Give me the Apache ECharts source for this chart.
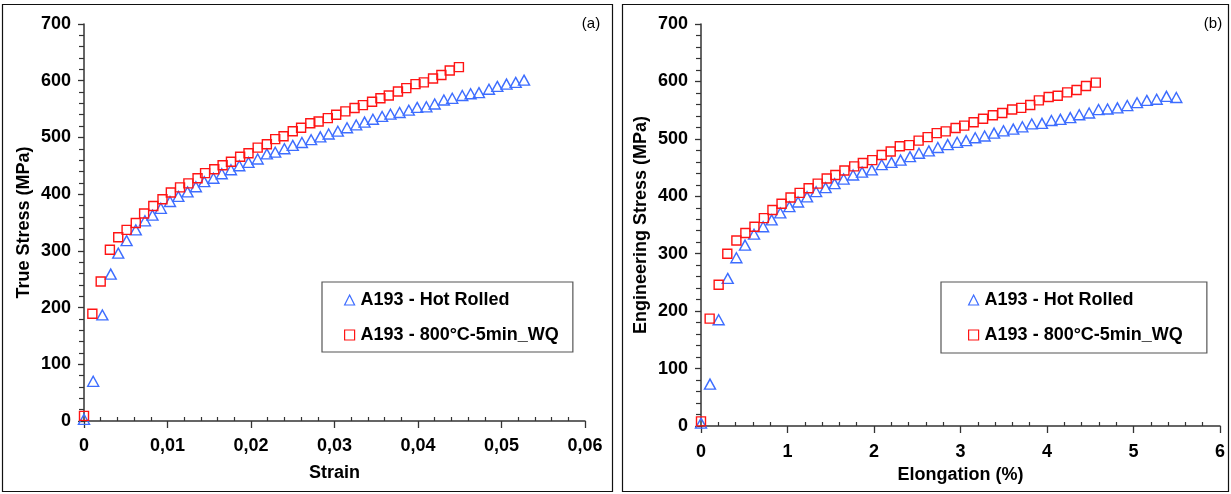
<!DOCTYPE html>
<html>
<head>
<meta charset="utf-8">
<script src="https://cdn.jsdelivr.net/npm/echarts@6/dist/echarts.min.js"></script>
<style>
html,body{margin:0;padding:0;background:#fff;}
#c{width:1231px;height:494px;}
</style>
</head>
<body>
<div id="c"></div>
<script>
// ---- Data ----
const seriesNames = ['A193 - Hot Rolled', 'A193 - 800°C-5min_WQ'];

// Panel (a): true stress vs strain
const hotStrain = [0, 0.0011, 0.0022, 0.0032, 0.0041, 0.0051, 0.0062, 0.0073, 0.0082, 0.0092, 0.0103, 0.0113, 0.0124, 0.0134, 0.0144, 0.0155, 0.0165, 0.0176, 0.0186, 0.0197, 0.0208, 0.0219, 0.0229, 0.024, 0.025, 0.0261, 0.0272, 0.0283, 0.0293, 0.0304, 0.0315, 0.0326, 0.0336, 0.0346, 0.0357, 0.0367, 0.0378, 0.0389, 0.0399, 0.041, 0.042, 0.0431, 0.0441, 0.0453, 0.0463, 0.0473, 0.0485, 0.0495, 0.0506, 0.0517, 0.0527];
const hotTrueStress = [3, 70, 187, 259, 296, 318, 337, 353, 363, 375, 387, 396, 404, 413, 422, 428, 436, 443, 450, 456, 462, 471, 474, 480, 486, 491, 496, 501, 506, 511, 517, 522, 527, 532, 537, 541, 544, 548, 553, 554, 559, 566, 569, 574, 577, 579, 585, 590, 594, 597, 601];
const wqStrain = [0, 0.001, 0.002, 0.0031, 0.0041, 0.0051, 0.0062, 0.0072, 0.0083, 0.0094, 0.0104, 0.0115, 0.0125, 0.0136, 0.0145, 0.0156, 0.0166, 0.0176, 0.0187, 0.0197, 0.0208, 0.0219, 0.0229, 0.0239, 0.025, 0.026, 0.0271, 0.0281, 0.0292, 0.0302, 0.0313, 0.0324, 0.0334, 0.0345, 0.0355, 0.0365, 0.0376, 0.0386, 0.0397, 0.0407, 0.0418, 0.0428, 0.0438, 0.0449];
const wqTrueStress = [9, 189, 246, 302, 324, 337, 349, 366, 379, 391, 403, 412, 419, 428, 437, 444, 451, 457, 466, 472, 482, 488, 497, 502, 511, 517, 525, 528, 534, 540, 546, 552, 557, 563, 569, 574, 581, 587, 594, 597, 604, 610, 618, 624];

// Panel (b): engineering stress vs elongation (%)
const hotElong = [0, 0.104, 0.204, 0.309, 0.409, 0.509, 0.613, 0.718, 0.817, 0.917, 1.022, 1.122, 1.226, 1.331, 1.44, 1.544, 1.649, 1.758, 1.862, 1.975, 2.089, 2.202, 2.307, 2.416, 2.52, 2.634, 2.738, 2.852, 2.961, 3.065, 3.17, 3.279, 3.388, 3.497, 3.61, 3.715, 3.824, 3.942, 4.051, 4.155, 4.269, 4.373, 4.487, 4.596, 4.7, 4.814, 4.928, 5.041, 5.154, 5.268, 5.381, 5.495];
const hotEngStress = [5, 73, 185, 257, 293, 315, 334, 347, 359, 371, 382, 390, 399, 408, 415, 422, 430, 437, 442, 446, 455, 459, 463, 469, 475, 479, 485, 490, 494, 497, 502, 505, 510, 514, 517, 521, 526, 527, 532, 534, 537, 542, 545, 551, 552, 554, 558, 563, 567, 569, 574, 572];
const wqElong = [0, 0.1, 0.204, 0.304, 0.409, 0.513, 0.618, 0.727, 0.826, 0.931, 1.035, 1.14, 1.244, 1.349, 1.453, 1.553, 1.658, 1.771, 1.871, 1.98, 2.089, 2.193, 2.298, 2.407, 2.516, 2.62, 2.725, 2.829, 2.943, 3.043, 3.152, 3.261, 3.374, 3.483, 3.597, 3.702, 3.806, 3.906, 4.019, 4.124, 4.233, 4.342, 4.451, 4.564];
const wqEngStress = [8, 187, 246, 300, 323, 336, 347, 362, 376, 387, 398, 406, 414, 422, 431, 437, 445, 452, 458, 463, 472, 478, 487, 489, 497, 503, 510, 513, 519, 523, 529, 535, 541, 545, 551, 554, 559, 567, 573, 575, 581, 585, 592, 598];

// Axis tick settings
const yTicks = {min: 0, max: 700, interval: 100};
const strainTicks = {min: 0, max: 0.06, interval: 0.01, minorStep: 0.002};
const elongTicks = {min: 0, max: 6, interval: 1, minorStep: 0.2};

// ---- Build ----
const zip = (xs, ys) => xs.map((x, i) => [x, ys[i]]);
const BLUE = '#3d6dff';
const RED = '#ff1414';
const AXIS = '#333';
const FONT = 'Liberation Sans, Arial, sans-serif';

function minorValues(t) {
  const out = [];
  const n = Math.round((t.max - t.min) / t.minorStep);
  const per = Math.round(t.interval / t.minorStep);
  for (let k = 0; k <= n; k++) {
    if (k % per !== 0) out.push(+(t.min + k * t.minorStep).toFixed(6));
  }
  return out;
}

const labelStyle = {color: '#000', fontFamily: FONT, fontWeight: 'bold', fontSize: 18};
const nameStyle = {color: '#000', fontFamily: FONT, fontWeight: 'bold', fontSize: 18};

function mainX(gi, t, name, gap, margin, fmt) {
  return {
    type: 'value', gridIndex: gi, min: t.min, max: t.max, interval: t.interval,
    name: name, nameLocation: 'middle', nameGap: gap, nameTextStyle: nameStyle,
    axisLine: {show: true, lineStyle: {color: AXIS, width: 1.5}},
    axisTick: {show: true, inside: false, length: 7, lineStyle: {color: AXIS, width: 1.3}},
    axisLabel: Object.assign({margin: margin, formatter: fmt}, labelStyle),
    splitLine: {show: false}
  };
}
function minorX(gi, t) {
  return {
    type: 'value', gridIndex: gi, min: t.min, max: t.max, interval: t.minorStep,
    position: 'bottom',
    axisLine: {show: false},
    axisTick: {show: true, inside: true, length: 4, customValues: minorValues(t), lineStyle: {color: AXIS, width: 1.2}},
    axisLabel: {show: false},
    splitLine: {show: false}
  };
}
function mainY(gi, name, gap) {
  return {
    type: 'value', gridIndex: gi, min: yTicks.min, max: yTicks.max, interval: yTicks.interval,
    name: name, nameLocation: 'middle', nameGap: gap, nameTextStyle: nameStyle,
    axisLine: {show: true, lineStyle: {color: AXIS, width: 1.5}},
    axisTick: {show: true, inside: false, length: 6, lineStyle: {color: AXIS, width: 1.3}},
    minorTick: {show: true, splitNumber: 5, length: 5, lineStyle: {color: AXIS, width: 1.2}},
    axisLabel: Object.assign({margin: 13}, labelStyle),
    splitLine: {show: false}
  };
}

function scatter(name, xi, yi, data, isTri) {
  return {
    type: 'scatter', name: name, xAxisIndex: xi, yAxisIndex: yi, data: data,
    symbol: isTri ? 'triangle' : 'rect',
    symbolSize: isTri ? [11, 10] : 9,
    itemStyle: {color: 'rgba(255,255,255,0)', borderColor: isTri ? BLUE : RED, borderWidth: 1.4, opacity: 1},
    emphasis: {disabled: true},
    z: isTri ? 2 : 3
  };
}

function legend(left, top, padding) {
  return {
    orient: 'vertical', left: left, top: top, padding: padding, itemGap: 17,
    itemWidth: 10, itemHeight: 10, selectedMode: false,
    borderColor: '#555', borderWidth: 1.2, backgroundColor: '#fff',
    textStyle: {color: '#000', fontFamily: FONT, fontWeight: 'bold', fontSize: 18, padding: [0, 0, 0, 1]},
    data: [
      {name: seriesNames[0], icon: 'triangle', itemStyle: {color: 'rgba(255,255,255,0)', borderColor: BLUE, borderWidth: 1.2}},
      {name: seriesNames[1], icon: 'rect', itemStyle: {color: 'rgba(255,255,255,0)', borderColor: RED, borderWidth: 1.2}}
    ]
  };
}

const strainFmt = v => (v === 0 ? '0' : v.toFixed(2).replace('.', ','));
const elongFmt = v => String(Math.round(v));

const option = {
  animation: false,
  backgroundColor: '#fff',
  grid: [
    {left: 84, top: 24, width: 501, height: 397},
    {left: 701, top: 24, width: 519, height: 402}
  ],
  xAxis: [
    mainX(0, strainTicks, 'Strain', 43, 16, strainFmt),
    minorX(0, strainTicks),
    mainX(1, elongTicks, 'Elongation (%)', 38, 17, elongFmt),
    minorX(1, elongTicks)
  ],
  yAxis: [
    mainY(0, 'True Stress (MPa)', 51),
    mainY(1, 'Engineering Stress (MPa)', 51)
  ],
  legend: [
    legend(322, 282, [9, 14, 8, 22]),
    legend(941, 282, [9, 24, 9, 27])
  ],
  series: [
    scatter(seriesNames[0], 0, 0, zip(hotStrain, hotTrueStress), true),
    scatter(seriesNames[1], 0, 0, zip(wqStrain, wqTrueStress), false),
    scatter(seriesNames[0], 2, 1, zip(hotElong, hotEngStress), true),
    scatter(seriesNames[1], 2, 1, zip(wqElong, wqEngStress), false)
  ],
  graphic: [
    {type: 'rect', shape: {x: 2.5, y: 4.5, width: 610, height: 487}, style: {fill: 'none', stroke: '#111', lineWidth: 1.2}, silent: true},
    {type: 'rect', shape: {x: 622.5, y: 4.5, width: 606, height: 487}, style: {fill: 'none', stroke: '#111', lineWidth: 1.2}, silent: true},
    {type: 'text', x: 591, y: 24, style: {text: '(a)', fill: '#000', font: '15px Liberation Sans, Arial, sans-serif', textAlign: 'center', textVerticalAlign: 'middle'}},
    {type: 'text', x: 1213, y: 24, style: {text: '(b)', fill: '#000', font: '15px Liberation Sans, Arial, sans-serif', textAlign: 'center', textVerticalAlign: 'middle'}}
  ]
};

const chart = echarts.init(document.getElementById('c'), null, {renderer: 'canvas'});
chart.setOption(option);
</script>
</body>
</html>
